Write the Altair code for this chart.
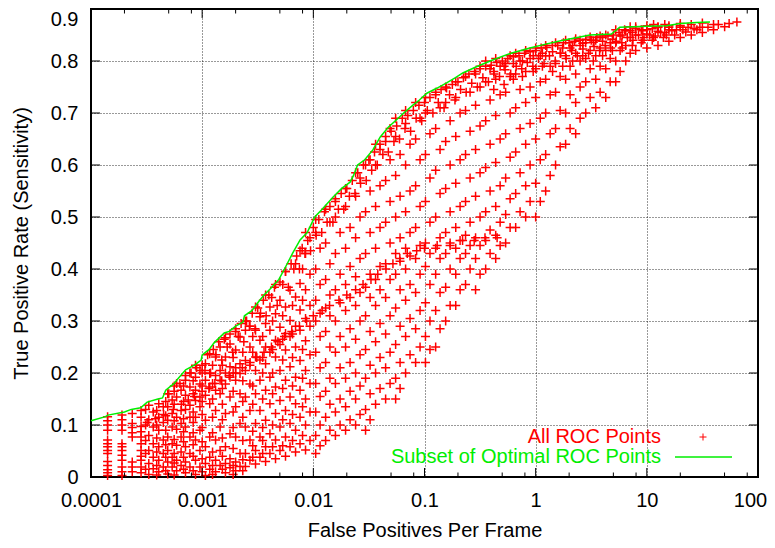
import altair as alt
import pandas as pd

W, H = 667, 468
FONT = "Liberation Sans"

# ---------------- data ----------------
# All ROC points, grouped in columns: (false positives per frame, [true positive rates])
roc_cols_left = [
    (1.41e-4, [0.003, 0.008, 0.014, 0.022, 0.03, 0.045, 0.051, 0.058, 0.064, 0.071, 0.09, 0.1, 0.108, 0.116]),
    (1.9e-4, [0.003, 0.01, 0.019, 0.032, 0.042, 0.051, 0.058, 0.064, 0.09, 0.1, 0.11, 0.119]),
    (2.35e-4, [0.01, 0.019, 0.029, 0.077, 0.085, 0.095, 0.103, 0.122]),
    (2.82e-4, [0.008, 0.019, 0.032, 0.04, 0.051, 0.064, 0.077, 0.087, 0.097, 0.115, 0.128]),
    (3.1e-4, [0.015, 0.045, 0.07, 0.1, 0.13]),
    (3.31e-4, [0.005, 0.026, 0.051, 0.08, 0.11, 0.138]),
    (3.63e-4, [0.016, 0.038, 0.064, 0.096, 0.125]),
    (3.9e-4, [0.004, 0.022, 0.048, 0.075, 0.1, 0.128]),
    (4.07e-4, [0.01, 0.032, 0.058, 0.09, 0.115, 0.141]),
    (4.47e-4, [0.019, 0.045, 0.071, 0.105, 0.135]),
    (4.7e-4, [0.012, 0.038, 0.062, 0.09, 0.118, 0.145]),
    (4.9e-4, [0.006, 0.029, 0.051, 0.077, 0.109, 0.135, 0.16]),
    (5.37e-4, [0.019, 0.038, 0.064, 0.096, 0.122, 0.148]),
    (5.6e-4, [0.004, 0.027, 0.045, 0.072, 0.108, 0.14, 0.165]),
    (5.89e-4, [0.012, 0.032, 0.061, 0.092, 0.115, 0.154, 0.18]),
    (6.46e-4, [0.022, 0.048, 0.077, 0.103, 0.128, 0.167]),
    (6.8e-4, [0.015, 0.038, 0.068, 0.087, 0.112, 0.145, 0.175]),
    (7.08e-4, [0.008, 0.029, 0.058, 0.096, 0.13, 0.157, 0.186]),
    (7.76e-4, [0.019, 0.045, 0.077, 0.115, 0.138, 0.173, 0.2]),
    (8.3e-4, [0.012, 0.04, 0.062, 0.085, 0.105, 0.125, 0.16, 0.185]),
    (8.71e-4, [0.005, 0.032, 0.071, 0.115, 0.147, 0.167, 0.192, 0.215]),
    (9.55e-4, [0.019, 0.051, 0.09, 0.135, 0.154, 0.179, 0.205]),
    (1.0e-3, [0.01, 0.035, 0.068, 0.095, 0.12, 0.145, 0.175, 0.2]),
    (1.07e-3, [0.003, 0.026, 0.058, 0.109, 0.157, 0.186, 0.218]),
    (1.17e-3, [0.015, 0.038, 0.077, 0.141, 0.173, 0.199, 0.237]),
    (1.24e-3, [0.005, 0.022, 0.048, 0.085, 0.115, 0.15, 0.18, 0.215]),
    (1.32e-3, [0.01, 0.032, 0.071, 0.128, 0.167, 0.195, 0.231]),
    (1.45e-3, [0.022, 0.051, 0.096, 0.16, 0.186, 0.205, 0.25]),
    (1.52e-3, [0.015, 0.04, 0.075, 0.11, 0.14, 0.17, 0.215]),
    (1.62e-3, [0.008, 0.026, 0.058, 0.122, 0.179, 0.2, 0.231, 0.268]),
    (1.78e-3, [0.018, 0.035, 0.083, 0.154, 0.192, 0.212, 0.256]),
    (1.9e-3, [0.005, 0.022, 0.055, 0.095, 0.125, 0.165, 0.2, 0.23]),
    (2.0e-3, [0.012, 0.029, 0.077, 0.135, 0.186, 0.21, 0.244, 0.285]),
    (2.19e-3, [0.02, 0.045, 0.103, 0.16, 0.199, 0.218, 0.269]),
    (2.32e-3, [0.012, 0.033, 0.07, 0.115, 0.145, 0.185, 0.24]),
    (2.45e-3, [0.02, 0.045, 0.096, 0.154, 0.205, 0.224, 0.282, 0.3]),
    (2.69e-3, [0.032, 0.071, 0.128, 0.179, 0.215, 0.25, 0.29]),
    (2.85e-3, [0.038, 0.06, 0.088, 0.14, 0.175, 0.24, 0.27]),
    (3.02e-3, [0.025, 0.051, 0.103, 0.16, 0.205, 0.231, 0.282, 0.327]),
    (3.31e-3, [0.038, 0.077, 0.128, 0.186, 0.225, 0.263, 0.308]),
    (3.5e-3, [0.045, 0.07, 0.095, 0.15, 0.2, 0.23, 0.27]),
    (3.72e-3, [0.03, 0.058, 0.109, 0.167, 0.218, 0.25, 0.295, 0.35]),
    (4.07e-3, [0.045, 0.083, 0.141, 0.192, 0.24, 0.282, 0.327]),
    (4.3e-3, [0.058, 0.1, 0.16, 0.2, 0.245, 0.3]),
    (4.57e-3, [0.035, 0.071, 0.122, 0.173, 0.231, 0.263, 0.314, 0.37]),
    (5.01e-3, [0.051, 0.096, 0.147, 0.205, 0.255, 0.288, 0.34]),
    (5.3e-3, [0.06, 0.11, 0.17, 0.225, 0.265, 0.31]),
    (5.62e-3, [0.04, 0.077, 0.128, 0.186, 0.244, 0.276, 0.327, 0.395]),
    (6.17e-3, [0.058, 0.103, 0.154, 0.212, 0.27, 0.301, 0.359]),
    (6.5e-3, [0.07, 0.12, 0.175, 0.23, 0.275, 0.33]),
    (6.92e-3, [0.048, 0.09, 0.141, 0.192, 0.25, 0.29, 0.346, 0.41]),
    (7.59e-3, [0.064, 0.115, 0.167, 0.224, 0.282, 0.321, 0.372, 0.435]),
    (8.0e-3, [0.08, 0.135, 0.19, 0.245, 0.34, 0.4]),
    (8.51e-3, [0.052, 0.1, 0.15, 0.205, 0.262, 0.305, 0.36, 0.43, 0.47]),
    (9.33e-3, [0.07, 0.125, 0.18, 0.235, 0.29, 0.33, 0.39, 0.46]),
]

roc_cols_mid = [
    (0.0105, [0.045, 0.08, 0.125, 0.18, 0.24, 0.3, 0.34, 0.4, 0.47, 0.495]),
    (0.0115, [0.06, 0.1, 0.155, 0.21, 0.27, 0.315, 0.37, 0.44]),
    (0.0129, [0.07, 0.115, 0.165, 0.22, 0.28, 0.325, 0.38, 0.45, 0.515]),
    (0.0141, [0.09, 0.14, 0.19, 0.25, 0.31, 0.35, 0.41, 0.49]),
    (0.0158, [0.08, 0.125, 0.18, 0.24, 0.3, 0.36, 0.43, 0.5, 0.53]),
    (0.0174, [0.1, 0.15, 0.21, 0.27, 0.335, 0.39, 0.47]),
    (0.0195, [0.09, 0.135, 0.19, 0.25, 0.32, 0.37, 0.44, 0.52, 0.555]),
    (0.0214, [0.11, 0.165, 0.22, 0.285, 0.345, 0.405, 0.48]),
    (0.024, [0.1, 0.15, 0.2, 0.265, 0.33, 0.385, 0.46, 0.54, 0.585]),
    (0.0263, [0.12, 0.175, 0.235, 0.3, 0.355, 0.42, 0.5, 0.575]),
    (0.0295, [0.09, 0.13, 0.19, 0.245, 0.31, 0.365, 0.43, 0.51, 0.6]),
    (0.0324, [0.11, 0.16, 0.215, 0.28, 0.345, 0.39, 0.47, 0.55, 0.61]),
    (0.0363, [0.14, 0.2, 0.26, 0.33, 0.38, 0.44, 0.52, 0.6, 0.64]),
    (0.0398, [0.17, 0.23, 0.295, 0.36, 0.405, 0.48, 0.56, 0.63]),
    (0.0447, [0.15, 0.21, 0.275, 0.345, 0.41, 0.49, 0.57, 0.645]),
    (0.049, [0.18, 0.24, 0.31, 0.38, 0.45, 0.53, 0.61, 0.67]),
    (0.055, [0.15, 0.19, 0.255, 0.325, 0.39, 0.43, 0.5, 0.58, 0.655, 0.69]),
    (0.0603, [0.17, 0.22, 0.29, 0.36, 0.415, 0.46, 0.54, 0.62]),
    (0.0676, [0.2, 0.27, 0.34, 0.4, 0.44, 0.51, 0.6, 0.68, 0.705]),
    (0.0741, [0.235, 0.305, 0.37, 0.425, 0.47, 0.55, 0.64]),
    (0.0832, [0.22, 0.285, 0.355, 0.42, 0.48, 0.56, 0.65, 0.72]),
    (0.0912, [0.25, 0.32, 0.39, 0.445, 0.52, 0.61, 0.69]),
    (0.102, [0.22, 0.27, 0.335, 0.405, 0.45, 0.53, 0.62, 0.7, 0.73]),
    (0.112, [0.245, 0.3, 0.37, 0.43, 0.49, 0.575, 0.66]),
    (0.126, [0.25, 0.32, 0.39, 0.44, 0.5, 0.59, 0.67, 0.74]),
    (0.138, [0.285, 0.355, 0.42, 0.46, 0.545, 0.63, 0.71]),
    (0.155, [0.3, 0.365, 0.43, 0.47, 0.555, 0.645, 0.72, 0.75]),
    (0.17, [0.33, 0.4, 0.445, 0.51, 0.6, 0.685]),
    (0.191, [0.33, 0.39, 0.44, 0.48, 0.565, 0.655, 0.73, 0.76]),
    (0.209, [0.36, 0.42, 0.455, 0.52, 0.61, 0.7]),
    (0.234, [0.37, 0.43, 0.465, 0.53, 0.62, 0.705, 0.77]),
    (0.257, [0.4, 0.445, 0.49, 0.575, 0.665, 0.74]),
    (0.288, [0.36, 0.42, 0.46, 0.54, 0.63, 0.715, 0.775]),
]

roc_cols_right = [
    (0.316, [0.39, 0.445, 0.5, 0.585, 0.675, 0.75, 0.79]),
    (0.355, [0.4, 0.455, 0.51, 0.595, 0.685, 0.76, 0.8]),
    (0.389, [0.43, 0.475, 0.55, 0.64, 0.725, 0.785]),
    (0.42, [0.745, 0.78]),
    (0.437, [0.42, 0.465, 0.52, 0.605, 0.695, 0.765, 0.805]),
    (0.479, [0.445, 0.49, 0.56, 0.65, 0.735, 0.79]),
    (0.52, [0.755, 0.79]),
    (0.537, [0.45, 0.505, 0.575, 0.66, 0.74, 0.795]),
    (0.589, [0.48, 0.535, 0.615, 0.7, 0.77, 0.81]),
    (0.63, [0.765, 0.795]),
    (0.661, [0.48, 0.545, 0.625, 0.71, 0.775, 0.815]),
    (0.724, [0.51, 0.585, 0.67, 0.745, 0.8]),
    (0.76, [0.77, 0.8]),
    (0.813, [0.5, 0.56, 0.64, 0.72, 0.78, 0.82]),
    (0.891, [0.53, 0.6, 0.68, 0.75, 0.805]),
    (0.95, [0.78, 0.81]),
    (1.0, [0.5, 0.565, 0.65, 0.73, 0.785, 0.825]),
    (1.1, [0.53, 0.61, 0.69, 0.76, 0.81]),
    (1.15, [0.79, 0.815]),
    (1.23, [0.55, 0.62, 0.7, 0.765, 0.81, 0.83]),
    (1.35, [0.58, 0.66, 0.735, 0.79]),
    (1.42, [0.78, 0.818]),
    (1.51, [0.6, 0.67, 0.74, 0.795, 0.835]),
    (1.66, [0.635, 0.705, 0.77, 0.815]),
    (1.75, [0.79, 0.825]),
    (1.86, [0.64, 0.7, 0.765, 0.81, 0.84]),
    (2.04, [0.67, 0.735, 0.79, 0.825]),
    (2.15, [0.8, 0.83]),
    (2.29, [0.66, 0.72, 0.775, 0.815, 0.843]),
    (2.51, [0.69, 0.75, 0.8, 0.83]),
    (2.65, [0.81, 0.834]),
    (2.82, [0.7, 0.76, 0.805, 0.835]),
    (3.09, [0.73, 0.785, 0.82, 0.846]),
    (3.3, [0.8, 0.836]),
    (3.47, [0.71, 0.765, 0.81, 0.84]),
    (3.8, [0.74, 0.79, 0.825, 0.848]),
    (4.0, [0.81, 0.838]),
    (4.27, [0.73, 0.785, 0.82, 0.85]),
    (4.68, [0.76, 0.805, 0.835]),
    (4.9, [0.82, 0.842]),
    (5.25, [0.76, 0.8, 0.835, 0.86]),
    (5.75, [0.78, 0.82, 0.848]),
    (6.0, [0.825, 0.85]),
    (6.46, [0.8, 0.83, 0.858]),
    (7.08, [0.815, 0.845, 0.866]),
    (7.4, [0.83, 0.855]),
    (7.94, [0.82, 0.85, 0.866]),
    (8.91, [0.835, 0.86]),
    (9.2, [0.84, 0.858]),
    (10.0, [0.825, 0.852, 0.868]),
    (11.2, [0.84, 0.862]),
    (11.5, [0.845, 0.87]),
    (12.6, [0.83, 0.857, 0.866]),
    (14.1, [0.845]),
    (14.5, [0.855, 0.87]),
    (15.8, [0.838, 0.86, 0.868]),
    (17.8, [0.85]),
    (18.5, [0.86]),
    (20.0, [0.845, 0.865, 0.872]),
    (22.4, [0.856]),
    (23.5, [0.865]),
    (25.1, [0.85, 0.87]),
    (28.2, [0.86]),
    (30.0, [0.865]),
    (31.6, [0.855, 0.873]),
    (35.5, [0.865]),
    (39.8, [0.86, 0.87]),
    (44.0, [0.87]),
    (50.1, [0.866]),
    (55.0, [0.872]),
    (64.6, [0.875]),
]

# dense band of points just under the optimal curve
near_curve_pts = [
    (5.01e-4, 0.16), (5.62e-4, 0.175), (6.31e-4, 0.18), (7.08e-4, 0.195), (7.94e-4, 0.2),
    (8.91e-4, 0.21), (1.0e-3, 0.215), (1.12e-3, 0.235), (1.26e-3, 0.245), (1.41e-3, 0.26),
    (1.58e-3, 0.265), (1.78e-3, 0.275), (2.0e-3, 0.28), (2.24e-3, 0.295), (2.51e-3, 0.3),
    (2.82e-3, 0.315), (3.16e-3, 0.325), (3.55e-3, 0.34), (3.98e-3, 0.35), (4.47e-3, 0.365),
    (5.01e-3, 0.375), (5.62e-3, 0.395), (6.31e-3, 0.41), (7.08e-3, 0.425), (7.94e-3, 0.44),
    (8.91e-3, 0.455), (0.01, 0.48), (0.0112, 0.495), (0.0126, 0.51), (0.0141, 0.52),
    (0.0158, 0.535), (0.0178, 0.545), (0.02, 0.555), (0.0224, 0.57), (0.0251, 0.585),
    (0.0282, 0.6), (0.0316, 0.61), (0.0355, 0.625), (0.0398, 0.64), (0.0447, 0.655),
    (0.0501, 0.665), (0.0562, 0.675), (0.0631, 0.69), (0.0708, 0.695), (0.0794, 0.705),
    (0.0891, 0.715), (0.1, 0.72), (0.112, 0.73), (0.126, 0.735), (0.141, 0.745),
    (0.158, 0.748), (0.178, 0.755), (0.2, 0.76), (0.224, 0.768), (0.251, 0.775),
    (0.282, 0.78), (0.316, 0.785), (0.355, 0.79), (0.398, 0.792), (0.447, 0.797),
    (0.501, 0.8), (0.562, 0.805), (0.631, 0.808), (0.708, 0.81), (0.794, 0.815),
    (0.891, 0.818), (1.0, 0.82), (1.12, 0.825), (1.26, 0.826), (1.41, 0.83),
    (1.58, 0.83), (1.78, 0.835), (2.0, 0.835), (2.24, 0.838), (2.51, 0.84),
    (2.82, 0.842), (3.16, 0.84), (3.55, 0.845), (3.98, 0.845), (4.47, 0.848),
    (5.01, 0.85), (5.62, 0.855), (6.31, 0.86), (7.08, 0.858), (7.94, 0.862),
    (10.0, 0.86), (12.6, 0.865), (15.8, 0.865), (20.0, 0.868),
    (1.06e-3, 0.205), (1.33e-3, 0.235), (1.68e-3, 0.25), (2.11e-3, 0.27), (2.66e-3, 0.29),
    (3.35e-3, 0.315), (4.22e-3, 0.345), (5.31e-3, 0.37), (6.68e-3, 0.4), (8.41e-3, 0.43),
    (0.0106, 0.465), (0.0133, 0.49), (0.0168, 0.515), (0.0211, 0.54), (0.0266, 0.565),
    (0.0335, 0.59), (0.0422, 0.62), (0.0531, 0.645), (0.0668, 0.67), (0.0841, 0.69),
    (0.106, 0.705), (0.133, 0.72), (0.168, 0.735), (0.211, 0.745), (0.266, 0.757),
    (0.335, 0.768), (0.422, 0.775), (0.531, 0.783), (0.668, 0.79), (0.841, 0.797),
    (1.06, 0.805), (1.33, 0.81), (1.68, 0.815), (2.11, 0.82), (2.66, 0.823),
    (3.35, 0.828), (4.22, 0.83), (5.31, 0.838), (6.68, 0.845), (8.41, 0.85),
    (10.6, 0.85), (13.3, 0.855), (16.8, 0.858), (21.1, 0.86), (26.6, 0.862),
    (1.19e-3, 0.2), (1.5e-3, 0.225), (1.88e-3, 0.24), (2.37e-3, 0.26), (2.99e-3, 0.285),
    (3.76e-3, 0.31), (4.73e-3, 0.33), (5.96e-3, 0.365), (7.5e-3, 0.4), (9.44e-3, 0.435),
    (0.0119, 0.47), (0.015, 0.49), (0.0188, 0.515), (0.0237, 0.545), (0.0299, 0.57),
    (0.0376, 0.6), (0.0473, 0.625), (0.0596, 0.65), (0.075, 0.665), (0.0944, 0.685),
    (0.119, 0.7), (0.15, 0.71), (0.188, 0.725), (0.237, 0.74), (0.299, 0.75),
    (0.376, 0.76), (0.473, 0.77), (0.596, 0.775), (0.75, 0.785), (0.944, 0.79),
    (1.19, 0.795), (1.5, 0.8), (1.88, 0.805), (2.37, 0.81), (2.99, 0.815),
    (3.76, 0.82), (4.73, 0.825), (5.96, 0.835), (7.5, 0.84), (9.44, 0.845),
    (11.9, 0.848), (15.0, 0.85),
]

# dense ridge running through the middle of the cloud
ridge_pts = [
    (3.2e-4, 0.105), (3.8e-4, 0.112), (4.5e-4, 0.12), (5.5e-4, 0.13), (6.5e-4, 0.14),
    (7.5e-4, 0.148), (8.5e-4, 0.155), (1.0e-3, 0.165), (1.15e-3, 0.17), (1.3e-3, 0.18),
    (1.5e-3, 0.185), (1.75e-3, 0.195), (2.0e-3, 0.2), (2.3e-3, 0.21), (2.7e-3, 0.22),
    (3.1e-3, 0.23), (3.6e-3, 0.24), (4.2e-3, 0.25), (4.8e-3, 0.26), (5.5e-3, 0.27),
    (6.4e-3, 0.28), (7.5e-3, 0.29), (8.7e-3, 0.3), (0.01, 0.31), (0.012, 0.32),
    (0.014, 0.33), (0.017, 0.34), (0.02, 0.35), (0.024, 0.36), (0.028, 0.37),
    (0.033, 0.38), (0.038, 0.39), (0.045, 0.4), (0.052, 0.41), (0.06, 0.42),
    (0.07, 0.43), (0.085, 0.435), (0.1, 0.44), (0.13, 0.445), (0.17, 0.45),
    (0.22, 0.455), (0.28, 0.455), (0.35, 0.46), (0.45, 0.46),
]

# subset of optimal ROC points (upper envelope)
opt_fp = [1.0e-4, 1.35e-4, 1.42e-4, 2.0e-4, 2.3e-4, 2.8e-4, 3.2e-4, 4.0e-4, 4.4e-4, 4.7e-4,
          5.6e-4, 6.0e-4, 7.1e-4, 8.5e-4, 9.8e-4, 1.0e-3, 1.15e-3, 1.28e-3, 1.58e-3, 1.75e-3,
          2.0e-3, 2.33e-3, 2.4e-3, 2.8e-3, 3.16e-3, 3.6e-3, 4.15e-3, 4.9e-3, 5.5e-3, 6.5e-3,
          7.6e-3, 8.8e-3, 1.03e-2, 1.2e-2, 1.5e-2, 1.8e-2, 2.14e-2, 2.3e-2, 2.5e-2, 2.9e-2,
          3.43e-2, 4.0e-2, 4.7e-2, 5.6e-2, 6.5e-2, 7.87e-2, 9.0e-2, 0.105, 0.13, 0.158,
          0.19, 0.221, 0.3, 0.41, 0.6, 0.887, 1.2, 1.76, 2.5, 3.07,
          4.8, 5.7, 10.0, 15.0, 20.0, 28.0, 37.0]
opt_tpr = [0.108, 0.116, 0.119, 0.125, 0.13, 0.133, 0.144, 0.15, 0.152, 0.167,
           0.18, 0.188, 0.206, 0.215, 0.225, 0.235, 0.245, 0.258, 0.277, 0.28,
           0.29, 0.298, 0.31, 0.32, 0.335, 0.35, 0.363, 0.38, 0.4, 0.43,
           0.456, 0.47, 0.5, 0.515, 0.538, 0.555, 0.567, 0.58, 0.6, 0.61,
           0.629, 0.654, 0.672, 0.687, 0.7, 0.715, 0.725, 0.738, 0.748, 0.758,
           0.768, 0.777, 0.79, 0.802, 0.815, 0.825, 0.832, 0.84, 0.846, 0.85,
           0.852, 0.865, 0.867, 0.868, 0.872, 0.874, 0.875]

x_major = [0.0001, 0.001, 0.01, 0.1, 1, 10, 100]
x_minor_mult = [2, 5, 8]
y_major = [0, 0.1, 0.2, 0.3, 0.4, 0.5, 0.6, 0.7, 0.8, 0.9]

# ---------------- build tables ----------------
fp, tp = [], []
for cols in (roc_cols_left, roc_cols_mid, roc_cols_right):
    for xv, ys in cols:
        for yv in ys:
            fp.append(xv)
            tp.append(yv)
for xv, yv in near_curve_pts + ridge_pts:
    fp.append(xv)
    tp.append(yv)
points_df = pd.DataFrame({"fp": fp, "tpr": tp})
opt_df = pd.DataFrame({"fp": opt_fp, "tpr": opt_tpr})
xmaj_df = pd.DataFrame({"fp": x_major})
xmin_df = pd.DataFrame({"fp": [m * d for d in x_major[:-1] for m in x_minor_mult]})
ymaj_df = pd.DataFrame({"tpr": y_major})
one = pd.DataFrame({"k": [0]})

xscale = alt.Scale(type="log", domain=[1e-4, 100], nice=False)
yscale = alt.Scale(domain=[0, 0.9], nice=False, zero=False)

xaxis = alt.Axis(values=x_major, format="~g", ticks=False, tickSize=0, domain=False,
                 grid=True, gridDash=[1, 2], gridColor="#000000", gridOpacity=0.8,
                 labelFont=FONT, labelFontSize=20, labelColor="black",
                 labelBaseline="alphabetic", labelPadding=29, labelFlush=False,
                 labelOverlap=False,
                 labelOffset={"condition": {"test": "datum.value >= 100", "value": -8},
                              "value": 0},
                 title="False Positives Per Frame",
                 titleFont=FONT, titleFontSize=20, titleFontWeight="normal",
                 titleColor="black", titleX=W / 2, titleY=59,
                 titleBaseline="alphabetic", titleAlign="center")
yaxis = alt.Axis(values=y_major, format="~g", ticks=False, tickSize=0, domain=False,
                 grid=True, gridDash=[1, 2], gridColor="#000000", gridOpacity=0.8,
                 labelFont=FONT, labelFontSize=20, labelColor="black",
                 labelPadding=13, labelFlush=False, labelOverlap=False,
                 labelBaseline={"condition": {"test": "datum.value >= 0.9", "value": "top"},
                                "value": "middle"},
                 title="True Positive Rate (Sensitivity)", titleFont=FONT,
                 titleFontSize=20, titleFontWeight="normal", titleColor="black",
                 titleX=-64, titleY=H / 2, titleAngle=270,
                 titleBaseline="alphabetic", titleAlign="center")

X = alt.X("fp:Q", scale=xscale, axis=xaxis)
Y = alt.Y("tpr:Q", scale=yscale, axis=yaxis)

PLUS = "M-1,0H1M0,-1V1"

pts = alt.Chart(points_df).mark_point(
    shape=PLUS, filled=False, size=81, strokeWidth=1.5, color="#ff0000", opacity=1
).encode(x=X, y=Y)

opt_line = alt.Chart(opt_df).mark_line(color="#00ee00", strokeWidth=1.5).encode(
    x=X, y=Y, order="fp:Q")

tick_style = dict(color="black", strokeWidth=1)
xt_bot = alt.Chart(xmaj_df).mark_rule(**tick_style).encode(
    x=X, y=alt.value(H), y2=alt.value(H - 9))
xt_top = alt.Chart(xmaj_df).mark_rule(**tick_style).encode(
    x=X, y=alt.value(0), y2=alt.value(9))
xm_bot = alt.Chart(xmin_df).mark_rule(**tick_style).encode(
    x=X, y=alt.value(H), y2=alt.value(H - 4.5))
xm_top = alt.Chart(xmin_df).mark_rule(**tick_style).encode(
    x=X, y=alt.value(0), y2=alt.value(4.5))
yt_left = alt.Chart(ymaj_df).mark_rule(**tick_style).encode(
    y=Y, x=alt.value(0), x2=alt.value(9))
yt_right = alt.Chart(ymaj_df).mark_rule(**tick_style).encode(
    y=Y, x=alt.value(W - 9), x2=alt.value(W))

# legend (inside lower right)
leg_t1 = alt.Chart(one).mark_text(align="right", baseline="middle", font=FONT,
                                  fontSize=20, color="#ff0000").encode(
    x=alt.value(570), y=alt.value(H - 40), text=alt.value("All ROC Points"))
leg_t2 = alt.Chart(one).mark_text(align="right", baseline="middle", font=FONT,
                                  fontSize=20, color="#00ee00").encode(
    x=alt.value(570), y=alt.value(H - 20), text=alt.value("Subset of Optimal ROC Points"))
leg_p = alt.Chart(one).mark_point(shape=PLUS, filled=False, size=49, strokeWidth=1,
                                  color="#ff0000", opacity=1).encode(
    x=alt.value(612), y=alt.value(H - 40))
leg_l = alt.Chart(one).mark_rule(color="#00ee00", strokeWidth=1.5).encode(
    x=alt.value(584), x2=alt.value(641), y=alt.value(H - 20))

chart = alt.layer(
    pts, opt_line, xt_bot, xt_top, xm_bot, xm_top, yt_left, yt_right,
    leg_t1, leg_t2, leg_p, leg_l,
).properties(
    width=W, height=H,
    autosize=alt.AutoSizeParams(type="none"),
    padding={"left": 83, "top": 1, "right": 9, "bottom": 63},
    background="white",
).configure_view(stroke="black", strokeWidth=2)

chart.save("out.html", embed_options={"renderer": "svg", "actions": False})
